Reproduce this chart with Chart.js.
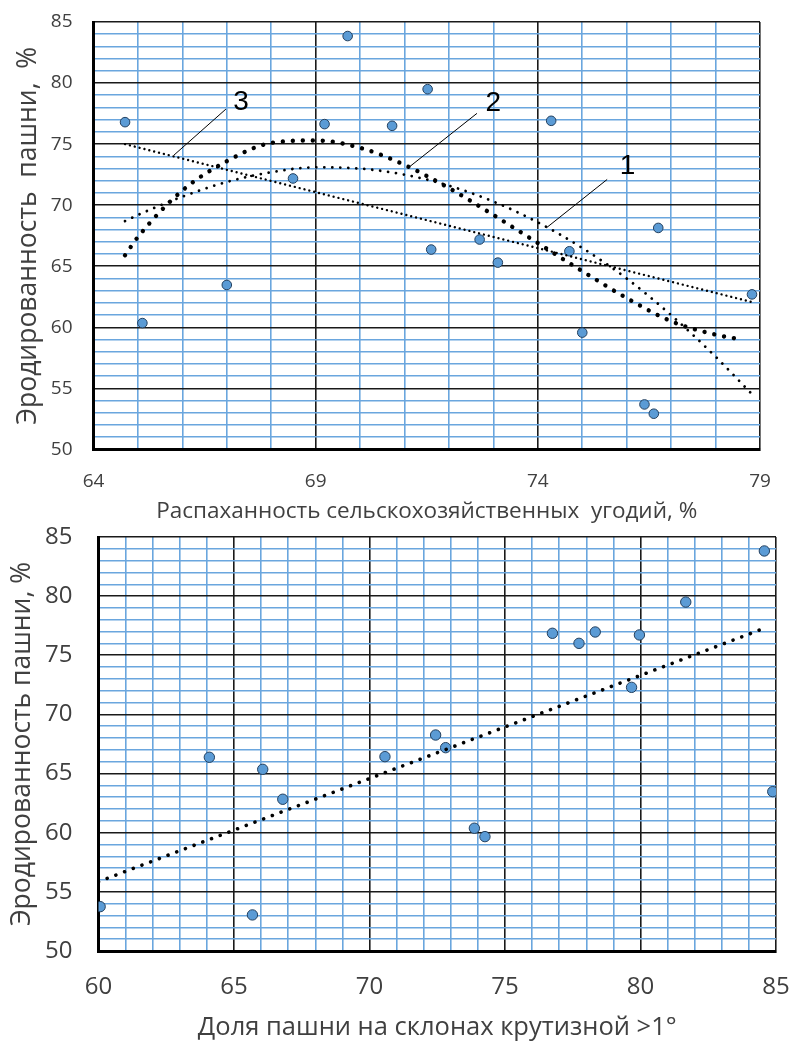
<!DOCTYPE html>
<html><head><meta charset="utf-8">
<script src="https://cdn.jsdelivr.net/npm/chart.js@4"></script>
<style>
body{margin:0;background:#fff;width:790px;height:1043px;overflow:hidden;position:relative}
.w{position:absolute;left:0;width:790px}
</style>
</head><body>
<div class="w" style="top:0;height:525px"><canvas id="c1"></canvas></div>
<div class="w" style="top:525px;height:518px"><canvas id="c2"></canvas></div>
<script>
// ---------- top chart data ----------
const arableX = [64.71, 65.1, 67.0, 68.49, 69.2, 69.72, 70.72, 71.52, 71.6, 72.69, 73.1, 74.3, 74.71, 75.0, 76.4, 76.61, 76.71, 78.82];
const erosionTopY = [76.8, 60.35, 63.47, 72.19, 76.64, 83.85, 76.5, 79.5, 66.37, 67.19, 65.3, 76.91, 66.23, 59.57, 53.69, 52.93, 68.14, 62.7];
const trend1X = [64.71, 65, 66, 67, 68, 69, 70, 71, 72, 73, 74, 75, 76, 77, 78, 78.8];
const trend1Y = [68.7, 69.2, 70.7, 71.9, 72.7, 73.1, 73.0, 72.5, 71.6, 70.3, 68.6, 66.5, 64.0, 61.0, 57.6, 54.6];
const trend2X = [64.71, 65, 66, 67, 68, 69, 70, 71, 72, 73, 74, 75, 76, 77, 78, 78.6];
const trend2Y = [65.9, 67.4, 71.2, 73.6, 75.1, 75.3, 74.7, 73.3, 71.4, 69.2, 66.9, 64.6, 62.4, 60.5, 59.4, 59.0];
const trend3X = [64.71, 78.82];
const trend3Y = [75.0, 62.07];
const topXTicks = [64, 69, 74, 79];
const topYTicks = [50, 55, 60, 65, 70, 75, 80, 85];
const curveLabels = ['1', '2', '3'];
const curveLabelX = [76.02, 73.0, 67.32];
const curveLabelY = [73.2, 78.36, 78.44];
const pointerFromX = [75.56, 72.63, 66.98];
const pointerFromY = [72.11, 77.52, 77.87];
const pointerToX = [74.19, 71.11, 65.81];
const pointerToY = [68.14, 73.14, 74.1];
const topXTitle = 'Распаханность сельскохозяйственных  угодий, %';
const topYTitle = 'Эродированность  пашни,  %';

// ---------- bottom chart data ----------
const slopeX = [60.06, 64.09, 65.68, 66.06, 66.8, 70.57, 72.44, 72.81, 73.87, 74.26, 76.75, 77.73, 78.33, 79.67, 79.96, 81.67, 84.57, 84.88];
const erosionBottomY = [53.75, 66.38, 53.05, 65.36, 62.83, 66.43, 68.26, 67.19, 60.38, 59.67, 76.86, 76.01, 76.97, 72.29, 76.72, 79.5, 83.82, 63.47];
const trendBX = [60.0, 84.62];
const trendBY = [55.86, 77.33];
const bottomXTicks = [60, 65, 70, 75, 80, 85];
const bottomYTicks = [50, 55, 60, 65, 70, 75, 80, 85];
const bottomXTitle = 'Доля пашни на склонах крутизной >1°';
const bottomYTitle = 'Эродированность пашни, %';

const pts = (xs, ys) => xs.map((x, i) => ({x, y: ys[i]}));
const BLUE = '#6AA6DE';
const gridColor = (major) => (ctx) => (ctx.tick && major.includes(ctx.tick.value)) ? '#1a1a1a' : BLUE;
const zeroPad = s => { s.paddingTop = 0; s.paddingBottom = 0; s.paddingLeft = 0; s.paddingRight = 0; };

function axis(opts) {
  return {
    type: 'linear',
    min: opts.min, max: opts.max,
    afterFit: s => { if (opts.w) s.width = opts.w; if (opts.h) s.height = opts.h; zeroPad(s); },
    border: {display: true, color: '#000', width: 3},
    grid: {color: gridColor(opts.major), lineWidth: 1.6, drawTicks: false},
    ticks: {
      stepSize: 1, autoSkip: false, maxRotation: 0, padding: opts.pad,
      color: '#404040', font: opts.font,
      callback: v => opts.major.includes(v) ? String(v) : ''
    },
    title: {display: true, text: opts.title, color: '#404040', font: opts.tfont, padding: opts.tpad}
  };
}

function dotted(data, width, gap, curve) {
  return {
    type: 'scatter', data, showLine: true, pointRadius: 0,
    borderColor: '#000', borderWidth: width, borderDash: [0.001, gap], borderCapStyle: 'round',
    tension: curve ? 0.4 : 0, cubicInterpolationMode: curve ? 'monotone' : 'default', fill: false
  };
}

const scatterStyle = {pointRadius: 4.8, pointBackgroundColor: '#5B9BD5', pointBorderColor: '#23405f', pointBorderWidth: 1, showLine: false};

const annotate = {
  id: 'annotate',
  afterDatasetsDraw(chart) {
    const {ctx, scales: {x, y}} = chart;
    ctx.save();
    ctx.strokeStyle = '#000'; ctx.lineWidth = 1;
    ctx.fillStyle = '#000';
    ctx.font = '28px "Liberation Sans", Arial, sans-serif';
    ctx.textAlign = 'center'; ctx.textBaseline = 'middle';
    curveLabels.forEach((t, i) => {
      ctx.beginPath();
      ctx.moveTo(x.getPixelForValue(pointerFromX[i]), y.getPixelForValue(pointerFromY[i]));
      ctx.lineTo(x.getPixelForValue(pointerToX[i]), y.getPixelForValue(pointerToY[i]));
      ctx.stroke();
      ctx.fillText(t, x.getPixelForValue(curveLabelX[i]), y.getPixelForValue(curveLabelY[i]));
    });
    ctx.restore();
  }
};

const common = {
  responsive: true, maintainAspectRatio: false, animation: false, devicePixelRatio: 1,
  plugins: {legend: {display: false}, tooltip: {enabled: false}}
};

new Chart(document.getElementById('c1'), {
  type: 'scatter',
  data: {datasets: [
    dotted(pts(trend3X, trend3Y), 2.4, 5, false),
    dotted(pts(trend1X, trend1Y), 2.8, 8, true),
    dotted(pts(trend2X, trend2Y), 4.4, 10, true),
    Object.assign({data: pts(arableX, erosionTopY)}, scatterStyle)
  ]},
  options: Object.assign({}, common, {
    layout: {padding: {left: 0, top: 22, right: 30, bottom: 0}},
    scales: {
      x: axis({min: 64, max: 79, major: topXTicks, h: 75.5, pad: 21,
        font: {family: '"Open Sans", sans-serif', size: 19},
        title: topXTitle, tfont: {family: '"Open Sans", sans-serif', size: 22.5}, tpad: {top: 0, bottom: 0}}),
      y: axis({min: 50, max: 85, major: topYTicks, w: 93.5, pad: 21,
        font: {family: '"Open Sans", sans-serif', size: 19},
        title: topYTitle, tfont: {family: '"Open Sans", sans-serif', size: 26.5}, tpad: {top: 13, bottom: 0}})
    }
  }),
  plugins: [annotate]
});

new Chart(document.getElementById('c2'), {
  type: 'scatter',
  data: {datasets: [
    dotted(pts(trendBX, trendBY), 3.6, 9.3, false),
    Object.assign({data: pts(slopeX, erosionBottomY)}, scatterStyle, {pointRadius: 5.2})
  ]},
  options: Object.assign({}, common, {
    layout: {padding: {left: 0, top: 12, right: 14, bottom: 0}},
    scales: {
      x: axis({min: 60, max: 85, major: bottomXTicks, h: 92, pad: 22,
        font: {family: '"Open Sans", sans-serif', size: 24},
        title: bottomXTitle, tfont: {family: '"Open Sans", sans-serif', size: 25.5}, tpad: {top: 0, bottom: 0}}),
      y: axis({min: 50, max: 85, major: bottomYTicks, w: 98.5, pad: 26,
        font: {family: '"Open Sans", sans-serif', size: 24},
        title: bottomYTitle, tfont: {family: '"Open Sans", sans-serif', size: 26.5}, tpad: {top: 7, bottom: 0}})
    }
  })
});
</script>
</body></html>
